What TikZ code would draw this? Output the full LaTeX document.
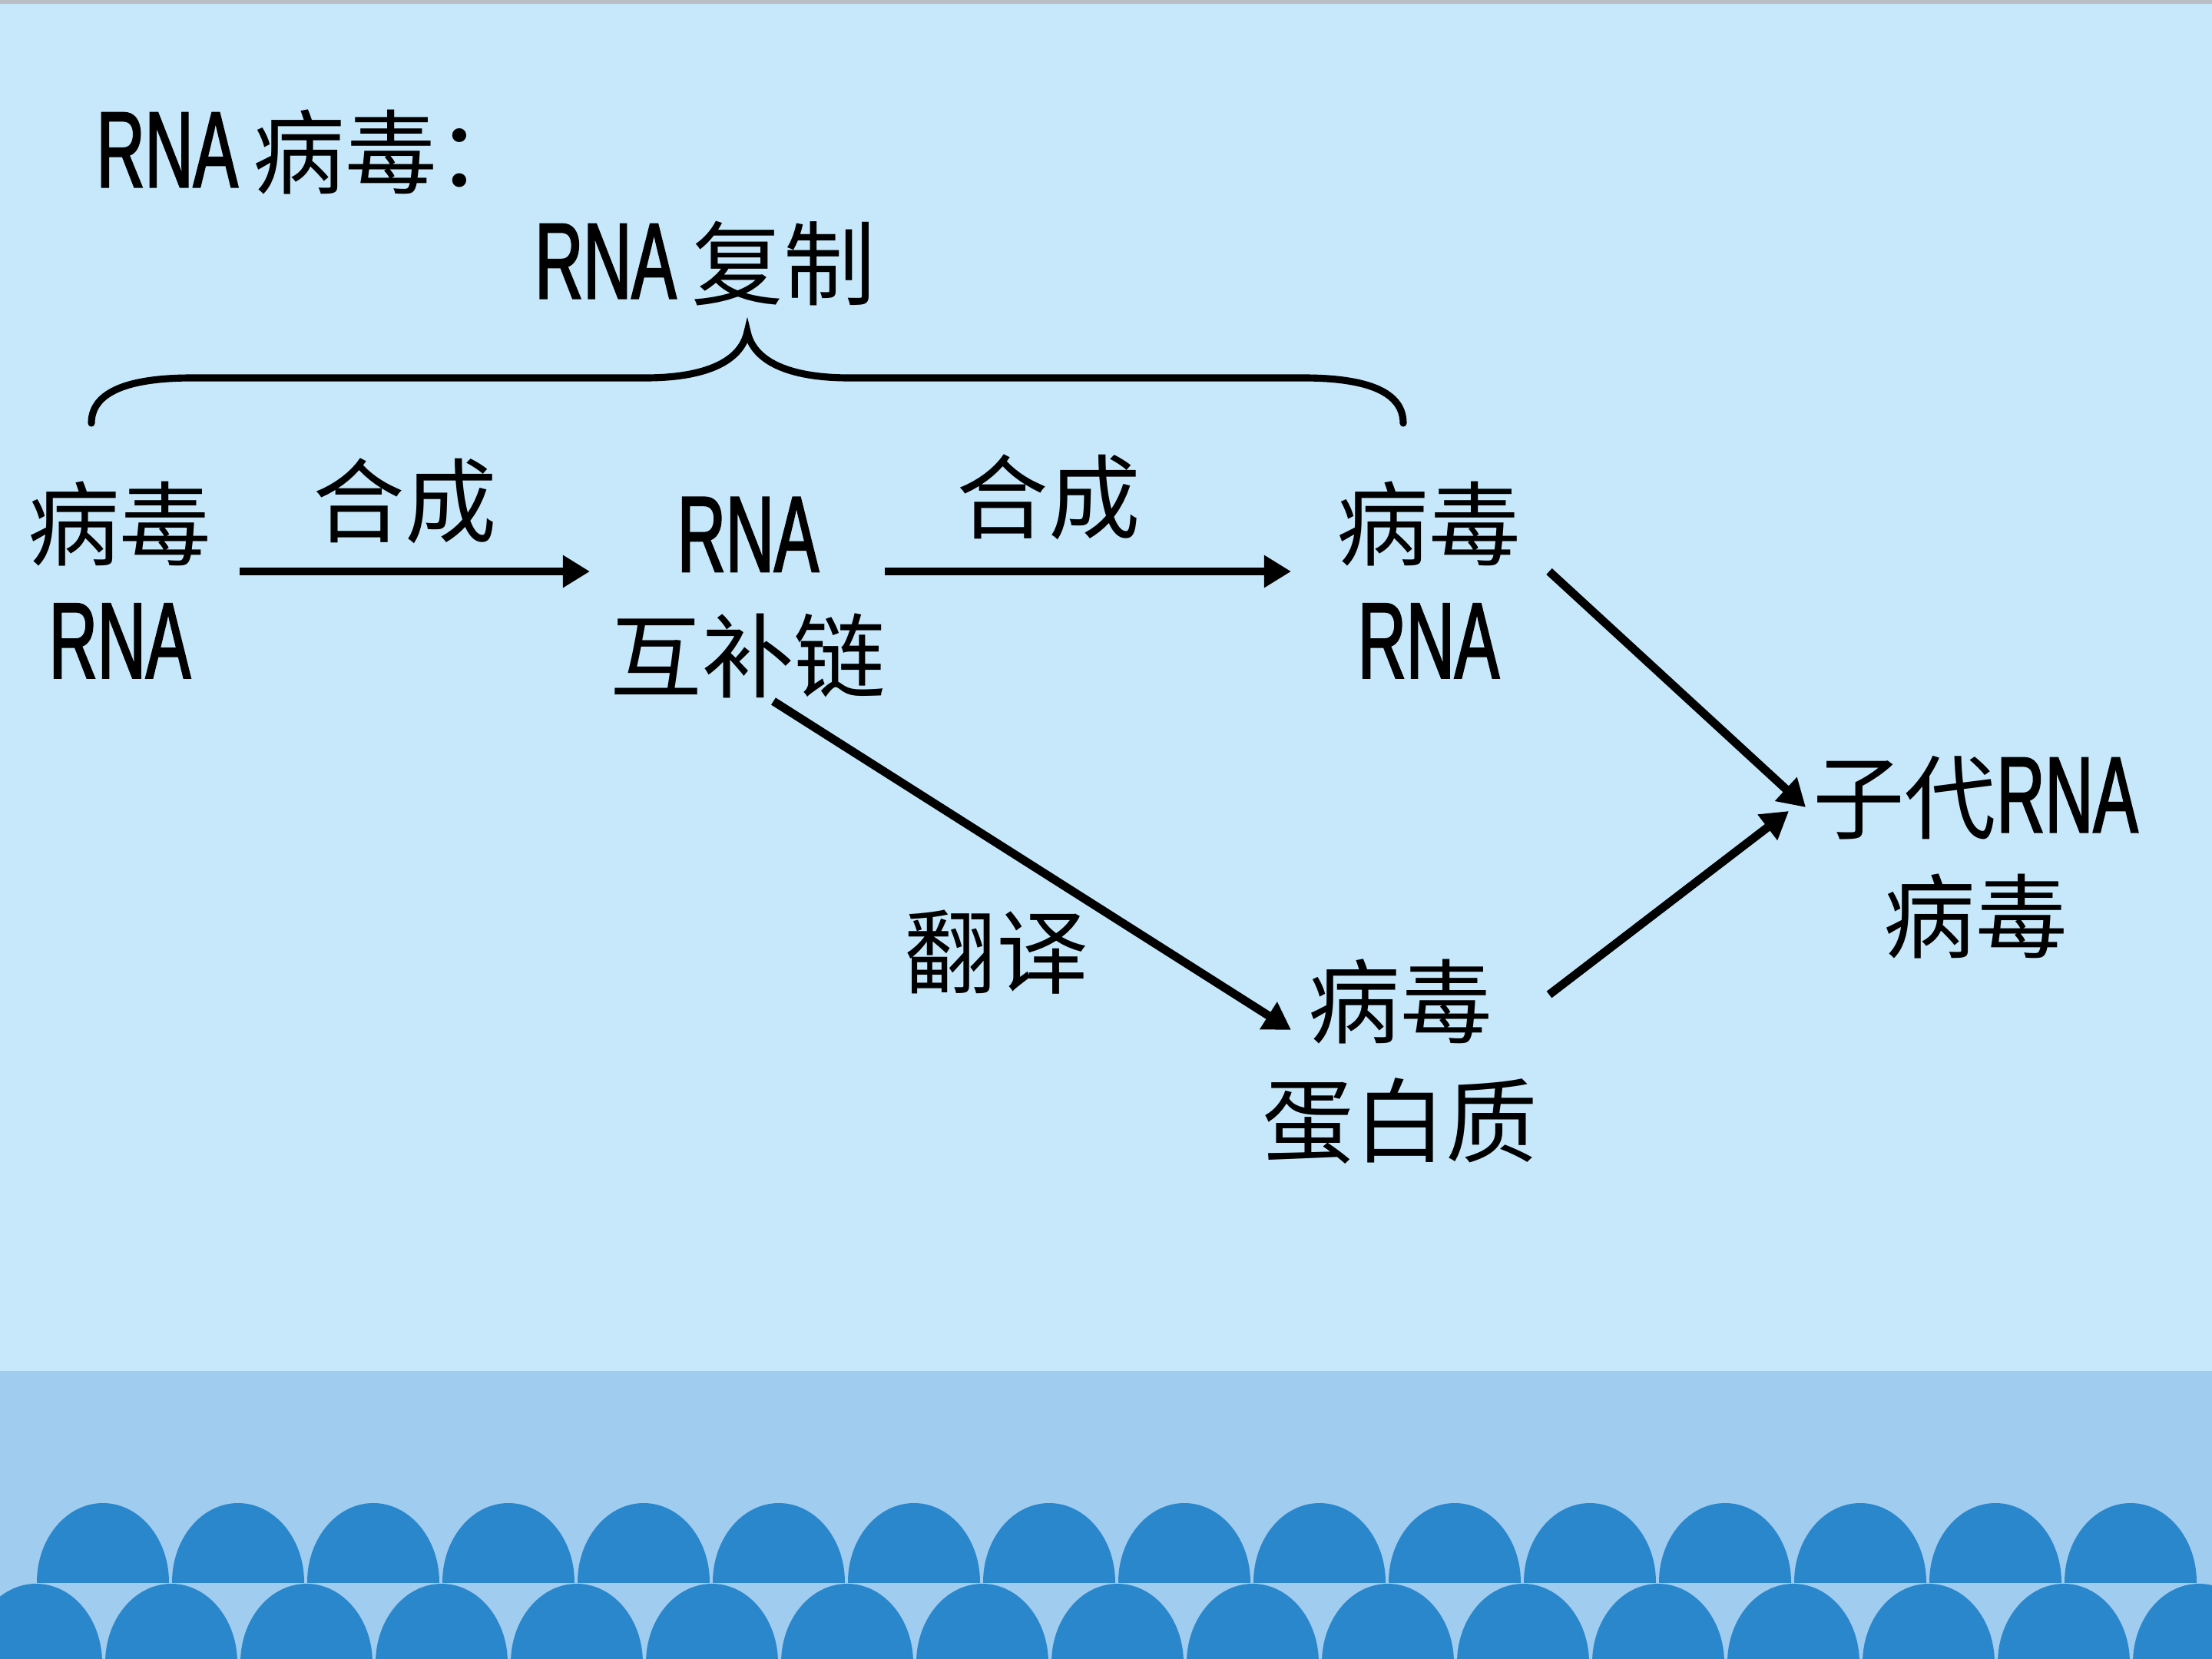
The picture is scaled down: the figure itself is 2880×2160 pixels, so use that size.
\documentclass[tikz,border=0pt]{standalone}
\usepackage{fontspec}
\setmainfont{Liberation Sans}[FakeStretch=0.63]
\newfontfamily\latf{Liberation Sans}[FakeStretch=0.62,FakeBold=1.6]
\newfontfamily\cjk{Noto Sans CJK SC}
\usetikzlibrary{arrows.meta}
\definecolor{bgblue}{HTML}{C6E8FA}
\definecolor{bandblue}{HTML}{A0CCF0}
\definecolor{archblue}{HTML}{2A87CB}
\definecolor{topgray}{HTML}{B8BEC4}
\newcommand\LT[1]{{\latf\fontsize{40}{44}\selectfont #1}}
\tikzset{
  lbl/.style={inner sep=0pt, align=center, font=\cjk\fontsize{34}{44}\selectfont},
  arr/.style={line width=3.1pt, -{Triangle[length=0.35cm,width=0.40cm]}},
  bracepath/.style={line width=2.6pt, line cap=round},
}
\begin{document}
\begin{tikzpicture}[x=0.01cm, y=-0.01cm]
\useasboundingbox (0,0) rectangle (2880,2160);
% background
\fill[bgblue] (0,0) rectangle (2880,2160);
\fill[topgray] (0,0) rectangle (2880,5);
\fill[bandblue] (0,1785) rectangle (2880,2160);
% scallops, top row
\begin{scope}
  \clip (0,1700) rectangle (2880,2060);
  \foreach \k in {0,...,15} {
    \fill[archblue] ({134+176*\k},2060) ellipse [x radius=86, y radius=103];
  }
\end{scope}
% scallops, bottom row
\begin{scope}
  \clip (0,2000) rectangle (2880,2160);
  \foreach \k in {-1,...,16} {
    \fill[archblue] ({47+176*\k},2165) ellipse [x radius=86, y radius=103];
  }
\end{scope}

% texts
\node[lbl, anchor=west] (title) at (125,198) {\LT{RNA}\,病毒：};
\node[lbl] (rep) at (918,343) {\LT{RNA}\,复制};
\node[lbl] (v1) at (156,755) {病毒\\\LT{RNA}};
\node[lbl] (syn1) at (527,652) {合成};
\node[lbl] (comp) at (974,778) {\LT{RNA}\\互补链};
\node[lbl] (syn2) at (1365,647) {合成};
\node[lbl] (v2) at (1860,755) {病毒\\\LT{RNA}};
\node[lbl] (prog) at (2572,1116) {子代\LT{RNA}\\病毒};
\node[lbl] (trans) at (1297,1240) {翻译};
\node[lbl] (prot) at (1823,1382) {病毒\\蛋白质};

% brace
\draw[bracepath] (119,551) .. controls (119,505) and (180,492) .. (250,492)
  -- (840,492) .. controls (920,492) and (965,470) .. (973,432)
  .. controls (981,470) and (1026,492) .. (1106,492)
  -- (1697,492) .. controls (1767,492) and (1827,505) .. (1827,551);

% arrow endpoints
\coordinate (a1s) at (312,744);
\coordinate (a1e) at (768,744);
\coordinate (a2s) at (1152,744);
\coordinate (a2e) at (1681,744);
\coordinate (a3s) at (2017,744);
\coordinate (a3e) at (2351,1051);
\coordinate (a4s) at (2017,1295);
\coordinate (a4e) at (2329,1056);
\coordinate (a5s) at (1007,913);
\coordinate (a5e) at (1681,1341);
\draw[arr] (a1s) -- (a1e);
\draw[arr] (a2s) -- (a2e);
\draw[arr] (a3s) -- (a3e);
\draw[arr] (a4s) -- (a4e);
\draw[arr] (a5s) -- (a5e);
\end{tikzpicture}
\end{document}
